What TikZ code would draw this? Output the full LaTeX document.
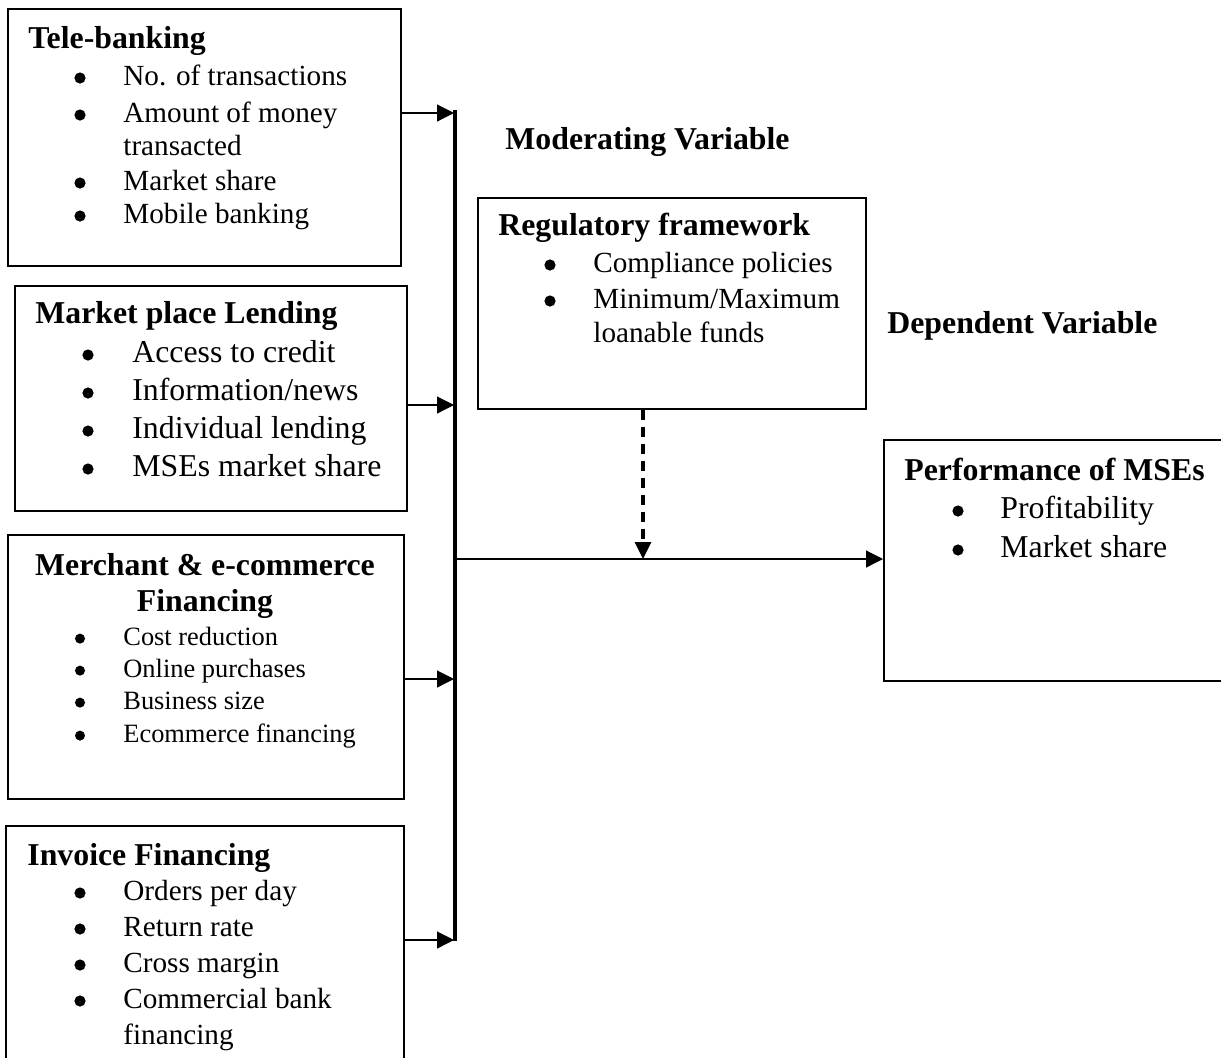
\documentclass[tikz,border=0pt]{standalone}
\usepackage{fontspec}
\setmainfont{Liberation Serif}
\usetikzlibrary{arrows.meta}
\tikzset{
  box/.style={draw, line width=0.8pt, inner sep=0pt, anchor=north west},
  ttl/.style={anchor=base west, inner sep=0pt, font=\fontsize{15.9}{18}\selectfont\bfseries},
  ttlc/.style={anchor=base, inner sep=0pt, font=\fontsize{15.9}{18}\selectfont\bfseries},
  itm/.style={anchor=base west, inner sep=0pt},
  bul/.style={circle, fill, inner sep=0pt, minimum size=5.6pt, yshift=3.5pt},
  bulc/.style={circle, fill, inner sep=0pt, minimum size=5pt, yshift=3.2pt},
  fa/.style={font=\fontsize{14.6}{17}\selectfont},
  fb/.style={font=\fontsize{15.9}{18}\selectfont},
  fc/.style={font=\fontsize{13.2}{16}\selectfont},
  feed/.style={line width=0.6pt, -{Triangle[length=8.5pt,width=8.5pt]}},
  barline/.style={line width=2pt},
  moder/.style={line width=1.6pt, dash pattern=on 5pt off 3.5pt, -{Triangle[length=8.5pt,width=8pt]}}
}
\begin{document}
\begin{tikzpicture}[x=0.5pt, y=-0.5pt]
\useasboundingbox (0,0) rectangle (1221,1057);
\clip (0,0) rectangle (1221,1057);

% ---- boxes
\node[box, minimum width=196.5pt, minimum height=128.5pt] (tb) at (7,8) {};
\node[box, minimum width=196pt, minimum height=112.5pt] (ml) at (14,285) {};
\node[box, minimum width=198pt, minimum height=132pt] (me) at (7,534) {};
\node[box, minimum width=199pt, minimum height=140pt] (inv) at (5,825) {};
\node[box, minimum width=194pt, minimum height=105.5pt] (reg) at (477,197) {};
\node[box, minimum width=200pt, minimum height=120.5pt] (perf) at (883,439) {};

% ---- Tele-banking
\node[ttl] (tbt) at (28,48) {Tele-banking};
\node[bul] (tbb1) at (80,85) {};
\node[itm, fa] (tbi1) at (123,85) {No. of transactions};
\node[bul] (tbb2) at (80,122) {};
\node[itm, fa] (tbi2) at (123,122) {Amount of money};
\node[itm, fa] (tbi2b) at (123,155) {transacted};
\node[bul] (tbb3) at (80,190) {};
\node[itm, fa] (tbi3) at (123,190) {Market share};
\node[bul] (tbb4) at (80,223) {};
\node[itm, fa] (tbi4) at (123,223) {Mobile banking};

% ---- Market place Lending
\node[ttl] (mlt) at (35,323) {Market place Lending};
\node[bul] (mlb1) at (88,362) {};
\node[itm, fb] (mli1) at (132,362) {Access to credit};
\node[bul] (mlb2) at (88,400) {};
\node[itm, fb] (mli2) at (132,400) {Information/news};
\node[bul] (mlb3) at (88,438) {};
\node[itm, fb] (mli3) at (132,438) {Individual lending};
\node[bul] (mlb4) at (88,476) {};
\node[itm, fb] (mli4) at (132,476) {MSEs market share};

% ---- Merchant & e-commerce Financing
\node[ttlc] (met1) at (205,575) {Merchant \& e-commerce};
\node[ttlc] (met2) at (205,611) {Financing};
\node[bulc] (meb1) at (80,645) {};
\node[itm, fc] (mei1) at (123,645) {Cost reduction};
\node[bulc] (meb2) at (80,677) {};
\node[itm, fc] (mei2) at (123,677) {Online purchases};
\node[bulc] (meb3) at (80,709) {};
\node[itm, fc] (mei3) at (123,709) {Business size};
\node[bulc] (meb4) at (80,742) {};
\node[itm, fc] (mei4) at (123,742) {Ecommerce financing};

% ---- Invoice Financing
\node[ttl] (invt) at (27,865) {Invoice Financing};
\node[bul] (invb1) at (80,900) {};
\node[itm, fa] (invi1) at (123,900) {Orders per day};
\node[bul] (invb2) at (80,936) {};
\node[itm, fa] (invi2) at (123,936) {Return rate};
\node[bul] (invb3) at (80,972) {};
\node[itm, fa] (invi3) at (123,972) {Cross margin};
\node[bul] (invb4) at (80,1008) {};
\node[itm, fa] (invi4) at (123,1008) {Commercial bank};
\node[itm, fa] (invi4b) at (123,1044) {financing};

% ---- Regulatory framework
\node[ttl] (regt) at (498,235) {Regulatory framework};
\node[bul] (regb1) at (550,272) {};
\node[itm, fa] (regi1) at (593,272) {Compliance policies};
\node[bul] (regb2) at (550,308) {};
\node[itm, fa] (regi2) at (593,308) {Minimum/Maximum};
\node[itm, fa] (regi2b) at (593,342) {loanable funds};

% ---- Performance of MSEs
\node[ttl] (perft) at (904,480) {Performance of MSEs};
\node[bul] (perfb1) at (958,518) {};
\node[itm, fb] (perfi1) at (1000,518) {Profitability};
\node[bul] (perfb2) at (958,557) {};
\node[itm, fb] (perfi2) at (1000,557) {Market share};

% ---- headings
\node[ttl] (modv) at (505,149) {Moderating Variable};
\node[ttl] (depv) at (887,333) {Dependent Variable};

% ---- connectors
\coordinate (bt) at (455,110);
\coordinate (bb) at (455,941);
\coordinate (j1) at (454,113);
\coordinate (j2) at (454,405);
\coordinate (j3) at (454,679);
\coordinate (j4) at (454,940);
\coordinate (jm) at (455,559);
\coordinate (dm) at (643,559);

\draw[barline] (bt) -- (bb);
\draw[feed] (tb.east |- j1) -- (j1);
\draw[feed] (ml.east |- j2) -- (j2);
\draw[feed] (me.east |- j3) -- (j3);
\draw[feed] (inv.east |- j4) -- (j4);
\draw[feed] (jm) -- (perf.west |- jm);
\draw[moder] (reg.south -| dm) -- (dm);
\end{tikzpicture}
\end{document}
